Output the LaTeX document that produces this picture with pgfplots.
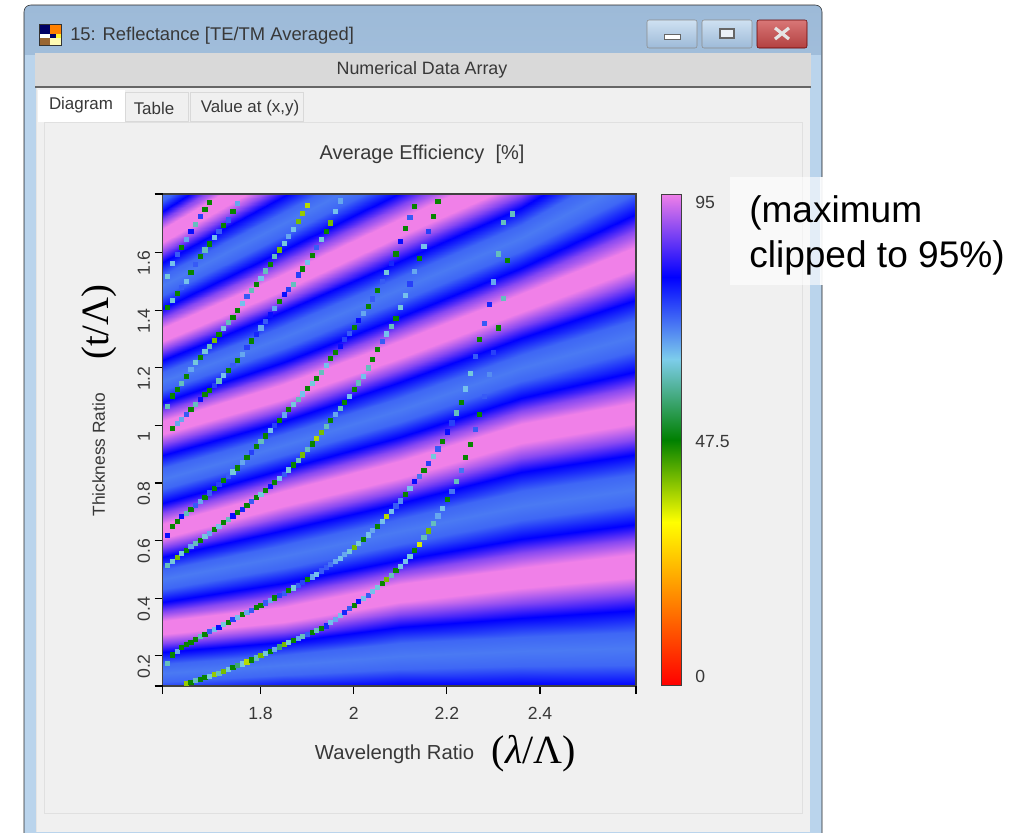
\documentclass[border=0pt]{standalone}
\usepackage{fontspec}
\setmainfont{Liberation Sans}
\newfontfamily\serifgreek{Liberation Serif}
\usepackage{pgfplots}
\pgfplotsset{compat=1.18}
\definecolor{txt}{HTML}{383838}
\definecolor{aeroA}{HTML}{9DBAD8}
\definecolor{aeroB}{HTML}{BAD4EC}
\definecolor{pane}{HTML}{F0F0F0}
\definecolor{bandg}{HTML}{D9D9D9}
\pgfplotsset{
  sim/.style={
    colormap={zemax}{rgb255(0pt)=(255,0,0); rgb255(31.5pt)=(255,255,0); rgb255(47.5pt)=(0,128,0); rgb255(63pt)=(125,205,235); rgb255(79pt)=(0,0,255); rgb255(95pt)=(240,128,232)},
    point meta min=0, point meta max=95},
  beads/.style={scatter, only marks, mark=square*, mark size=1.55pt, point meta=explicit,
    mark options={line width=0.1pt},
    scatter/use mapped color={draw=mapped color, fill=mapped color}}
}
\begin{document}
\begin{tikzpicture}[x=0.75pt,y=-0.75pt]
\useasboundingbox (0,0) rectangle (1031,832);
\fill[white] (0,0) rectangle (1031,832);
% window
\path[draw=black!85,top color=aeroA,bottom color=aeroB,middle color=aeroB,rounded corners=5] (24,5) -- (822,5) -- (822,840) -- (24,840) -- cycle;
\fill[aeroB] (25,55) rectangle (821,832);
\fill[bandg] (35,53) rectangle (811,87);
\fill[black!60] (35,86) rectangle (811,88);
\fill[pane] (36,88) rectangle (810,832);
\fill[white!90!black] (36,88) rectangle (37,832);
\fill[pane] (44,122) rectangle (802,813);
\draw[black!12] (44,122) rectangle (802,813);
\fill[white] (38,90) rectangle (125,122);
\draw[black!15,fill=pane] (125,92) rectangle (188,121);
\draw[black!15,fill=pane] (190,92) rectangle (303,121);
% icon
\fill[black!80] (39,24) rectangle (62,46);
\fill[white] (40,25) rectangle (61,45);
\fill[blue!40!black] (40,25) rectangle (50,34);
\fill[orange] (50,25) rectangle (61,34);
\fill[white] (40,34) rectangle (50,38);
\fill[blue!40!black] (50,34) rectangle (61,38);
\fill[yellow!80!white] (56,34) rectangle (61,38);
\fill[brown!80!black] (40,38) rectangle (50,45);
\fill[yellow!30] (50,38) rectangle (61,45);
% window buttons
\draw[black!45,rounded corners=1.5,top color=aeroB!70!white,bottom color=aeroA] (647,20) rectangle (697,48);
\draw[black!45,rounded corners=1.5,top color=aeroB!70!white,bottom color=aeroA] (702,20) rectangle (752,48);
\draw[black!60!red,rounded corners=1.5,top color=red!45!white!85!black,bottom color=red!60!black!75!white] (757,20) rectangle (807,48);
\fill[white,draw=black!60] (664,34) rectangle (680,39);
\draw[black!60,fill=white!80!aeroA,line width=0.8pt] (720,29) rectangle (734,38);
\draw[white!90!black,line width=2.4pt] (775,28) -- (789,39) (775,39) -- (789,28);
% chrome text
\node[anchor=west,inner sep=0pt,text=txt,font=\fontsize{13.8}{15}\selectfont] at (70,36) {15: Reflectance [TE/TM Averaged]};
\node[text=txt,font=\fontsize{13.4}{15}\selectfont] at (422,70) {Numerical Data Array};
\node[text=txt,font=\fontsize{12.7}{15}\selectfont] at (81,105) {Diagram};
\node[text=txt,font=\fontsize{12.7}{15}\selectfont] at (154,108) {Table};
\node[text=txt,font=\fontsize{12.7}{15}\selectfont] at (250,108) {Value at (x,y)};

\begin{axis}[sim, at={(122pt,-514.5pt)}, anchor=south west, scale only axis,
  width=355pt, height=369pt,
  xmin=1.59, xmax=2.606, ymin=0.095, ymax=1.804,
  xtick={1.8,2,2.2,2.4}, xticklabels={1.8,2,2.2,2.4},
  ytick={0.2,0.4,0.6,0.8,1,1.2,1.4,1.6}, yticklabels={0.2,0.4,0.6,0.8,1,1.2,1.4,1.6},
  extra x ticks={1.59,2.606}, extra x tick labels={},
  extra y ticks={0.095,1.804}, extra y tick labels={},
  tick align=outside, tick pos=left, major tick length=6pt,
  tick style={black, line width=0.9pt},
  axis line style={draw=black!75, line width=0.8pt},
  axis on top,
  ticklabel style={text=txt, font=\fontsize{13.2}{15}\selectfont},
  yticklabel style={rotate=90, anchor=south, xshift=-8pt},
  xticklabel style={yshift=-6.5pt},
  xlabel={Wavelength Ratio}, ylabel={Thickness Ratio},
  title={Average Efficiency\ \ [\%]},
  every axis title shift=0pt,
  xlabel style={at={(axis description cs:0.49,-0.138)}, anchor=center, text=txt, font=\fontsize{15.2}{17}\selectfont},
  ylabel style={at={(axis description cs:-0.135,0.47)}, anchor=center, text=txt, font=\fontsize{13}{15}\selectfont},
  title style={at={(axis description cs:0.548,1.081)}, anchor=center, text=txt, font=\fontsize{15}{17}\selectfont},
]
\addplot[surf, shader=interp, mesh/rows=49, mesh/cols=5, point meta=explicit] coordinates {
(1.59,.036)[88] (1.85,.053)[88] (2.10,.054)[88] (2.36,.047)[88] (2.61,.036)[88]
(1.59,.068)[79] (1.85,.088)[79] (2.10,.098)[79] (2.36,.098)[79] (2.61,.094)[79]
(1.59,.108)[71] (1.85,.133)[71] (2.10,.155)[71] (2.36,.164)[71] (2.61,.169)[71]
(1.59,.140)[69.5] (1.85,.168)[69.5] (2.10,.199)[69.5] (2.36,.215)[69.5] (2.61,.227)[69.5]
(1.59,.171)[71] (1.85,.203)[71] (2.10,.243)[71] (2.36,.266)[71] (2.61,.284)[71]
(1.59,.212)[79] (1.85,.248)[79] (2.10,.300)[79] (2.36,.332)[79] (2.61,.359)[79]
(1.59,.243)[88] (1.85,.283)[88] (2.10,.344)[88] (2.36,.383)[88] (2.61,.417)[88]
(1.59,.274)[95] (1.85,.318)[95] (2.10,.387)[95] (2.36,.434)[95] (2.61,.475)[95]
(1.59,.320)[95] (1.85,.370)[95] (2.10,.448)[95] (2.36,.505)[95] (2.61,.552)[95]
(1.59,.353)[88] (1.85,.411)[88] (2.10,.491)[88] (2.36,.556)[88] (2.61,.605)[88]
(1.59,.387)[79] (1.85,.452)[79] (2.10,.534)[79] (2.36,.606)[79] (2.61,.658)[79]
(1.59,.431)[71] (1.85,.504)[71] (2.10,.589)[71] (2.36,.672)[71] (2.61,.727)[71]
(1.59,.465)[69.5] (1.85,.545)[69.5] (2.10,.632)[69.5] (2.36,.722)[69.5] (2.61,.780)[69.5]
(1.59,.499)[71] (1.85,.586)[71] (2.10,.675)[71] (2.36,.772)[71] (2.61,.832)[71]
(1.59,.543)[79] (1.85,.638)[79] (2.10,.730)[79] (2.36,.838)[79] (2.61,.901)[79]
(1.59,.577)[88] (1.85,.679)[88] (2.10,.773)[88] (2.36,.888)[88] (2.61,.954)[88]
(1.59,.610)[95] (1.85,.720)[95] (2.10,.816)[95] (2.36,.939)[95] (2.61,1.007)[95]
(1.59,.659)[95] (1.85,.774)[95] (2.10,.875)[95] (2.36,1.006)[95] (2.61,1.082)[95]
(1.59,.695)[88] (1.85,.811)[88] (2.10,.917)[88] (2.36,1.051)[88] (2.61,1.136)[88]
(1.59,.731)[79] (1.85,.848)[79] (2.10,.959)[79] (2.36,1.096)[79] (2.61,1.190)[79]
(1.59,.778)[71] (1.85,.896)[71] (2.10,1.013)[71] (2.36,1.155)[71] (2.61,1.261)[71]
(1.59,.815)[69.5] (1.85,.933)[69.5] (2.10,1.055)[69.5] (2.36,1.200)[69.5] (2.61,1.315)[69.5]
(1.59,.851)[71] (1.85,.969)[71] (2.10,1.096)[71] (2.36,1.245)[71] (2.61,1.369)[71]
(1.59,.898)[79] (1.85,1.017)[79] (2.10,1.150)[79] (2.36,1.304)[79] (2.61,1.440)[79]
(1.59,.934)[88] (1.85,1.054)[88] (2.10,1.192)[88] (2.36,1.349)[88] (2.61,1.494)[88]
(1.59,.970)[95] (1.85,1.091)[95] (2.10,1.234)[95] (2.36,1.394)[95] (2.61,1.548)[95]
(1.59,1.017)[95] (1.85,1.144)[95] (2.10,1.293)[95] (2.36,1.458)[95] (2.61,1.625)[95]
(1.59,1.049)[88] (1.85,1.182)[88] (2.10,1.335)[88] (2.36,1.503)[88] (2.61,1.682)[88]
(1.59,1.081)[79] (1.85,1.220)[79] (2.10,1.377)[79] (2.36,1.548)[79] (2.61,1.738)[79]
(1.59,1.123)[71] (1.85,1.270)[71] (2.10,1.433)[71] (2.36,1.606)[71] (2.61,1.812)[71]
(1.59,1.155)[69.5] (1.85,1.308)[69.5] (2.10,1.475)[69.5] (2.36,1.651)[69.5] (2.61,1.868)[69.5]
(1.59,1.187)[71] (1.85,1.346)[71] (2.10,1.517)[71] (2.36,1.696)[71] (2.61,1.924)[71]
(1.59,1.229)[79] (1.85,1.396)[79] (2.10,1.573)[79] (2.36,1.755)[79] (2.61,1.998)[79]
(1.59,1.261)[88] (1.85,1.434)[88] (2.10,1.615)[88] (2.36,1.800)[88] (2.61,2.054)[88]
(1.59,1.293)[95] (1.85,1.472)[95] (2.10,1.657)[95] (2.36,1.845)[95] (2.61,2.111)[95]
(1.59,1.339)[95] (1.85,1.527)[95] (2.10,1.718)[95] (2.36,1.913)[95] (2.61,2.188)[95]
(1.59,1.374)[88] (1.85,1.568)[88] (2.10,1.763)[88] (2.36,1.965)[88] (2.61,2.242)[88]
(1.59,1.409)[79] (1.85,1.609)[79] (2.10,1.807)[79] (2.36,2.017)[79] (2.61,2.296)[79]
(1.59,1.454)[71] (1.85,1.662)[71] (2.10,1.865)[71] (2.36,2.086)[71] (2.61,2.366)[71]
(1.59,1.489)[69.5] (1.85,1.703)[69.5] (2.10,1.910)[69.5] (2.36,2.138)[69.5] (2.61,2.420)[69.5]
(1.59,1.524)[71] (1.85,1.743)[71] (2.10,1.954)[71] (2.36,2.190)[71] (2.61,2.474)[71]
(1.59,1.569)[79] (1.85,1.796)[79] (2.10,2.012)[79] (2.36,2.259)[79] (2.61,2.544)[79]
(1.59,1.604)[88] (1.85,1.837)[88] (2.10,2.056)[88] (2.36,2.311)[88] (2.61,2.598)[88]
(1.59,1.639)[95] (1.85,1.878)[95] (2.10,2.101)[95] (2.36,2.363)[95] (2.61,2.652)[95]
(1.59,1.684)[95] (1.85,1.934)[95] (2.10,2.162)[95] (2.36,2.435)[95] (2.61,2.726)[95]
(1.59,1.714)[88] (1.85,1.973)[88] (2.10,2.205)[88] (2.36,2.485)[88] (2.61,2.777)[88]
(1.59,1.744)[79] (1.85,2.012)[79] (2.10,2.248)[79] (2.36,2.535)[79] (2.61,2.828)[79]
(1.59,1.783)[71] (1.85,2.064)[71] (2.10,2.303)[71] (2.36,2.600)[71] (2.61,2.894)[71]
(1.59,1.813)[69.5] (1.85,2.103)[69.5] (2.10,2.346)[69.5] (2.36,2.650)[69.5] (2.61,2.945)[69.5]
};
% resonance 1
\addplot[beads] coordinates {
(1.64,.105)[38](1.65,.110)[47](1.66,.115)[60](1.67,.120)[47](1.68,.125)[47](1.69,.130)[62](1.70,.135)[38](1.71,.141)[60](1.72,.148)[40](1.73,.155)[62](1.74,.161)[47](1.75,.167)[55](1.76,.173)[62](1.77,.180)[36](1.78,.187)[47](1.79,.194)[60](1.80,.202)[40](1.81,.209)[62](1.82,.216)[47](1.83,.224)[66](1.84,.232)[55](1.85,.240)[40](1.86,.247)[62](1.87,.254)[47](1.88,.262)[66](1.89,.269)[60](1.90,.276)[72](1.91,.283)[47](1.92,.290)[60](1.93,.297)[47](1.94,.305)[76](1.95,.316)[64](1.96,.328)[66](1.97,.340)[64](1.98,.353)[76](1.99,.365)[72](2.00,.377)[47](2.01,.389)[78](2.02,.400)[64](2.03,.412)[72](2.04,.426)[64](2.05,.440)[62](2.06,.453)[47](2.07,.467)[40](2.08,.481)[60](2.09,.497)[47](2.10,.513)[64](2.11,.528)[64](2.12,.545)[62](2.13,.567)[47](2.14,.589)[34](2.15,.611)[60](2.16,.635)[40](2.17,.660)[60](2.18,.687)[66](2.19,.714)[64](2.20,.743)[47](2.21,.771)[70](2.22,.806)[60](2.23,.846)[70](2.24,.889)[47](2.25,.934)[47](2.26,.987)[72](2.27,1.041)[47](2.28,1.103)[72](2.29,1.178)[68](2.30,1.256)[74](2.31,1.340)[47](2.32,1.443)[60](2.33,1.576)[47](2.34,1.736)[60]
};
% resonance 2
\addplot[beads] coordinates {
(1.60,.175)[60](1.61,.204)[47](1.62,.217)[66](1.63,.229)[47](1.64,.242)[47](1.65,.248)[47](1.66,.258)[47](1.67,.267)[60](1.68,.276)[47](1.69,.285)[72](1.70,.294)[64](1.71,.301)[78](1.72,.310)[62](1.73,.318)[47](1.74,.327)[74](1.75,.335)[64](1.76,.344)[47](1.77,.352)[66](1.78,.360)[72](1.79,.369)[47](1.80,.377)[47](1.81,.385)[72](1.82,.393)[66](1.83,.402)[47](1.84,.410)[74](1.85,.419)[72](1.86,.428)[47](1.87,.437)[62](1.88,.447)[72](1.89,.456)[74](1.90,.466)[47](1.91,.475)[66](1.92,.485)[64](1.93,.496)[72](1.94,.507)[72](1.95,.518)[70](1.96,.529)[66](1.97,.540)[64](1.98,.552)[66](1.99,.563)[62](2.00,.577)[40](2.01,.592)[62](2.02,.606)[47](2.03,.621)[64](2.04,.636)[66](2.05,.651)[47](2.06,.668)[64](2.07,.686)[36](2.08,.704)[64](2.09,.722)[72](2.10,.739)[68](2.11,.761)[47](2.12,.783)[64](2.13,.806)[78](2.14,.825)[70](2.15,.844)[47](2.16,.868)[74](2.17,.893)[62](2.18,.920)[72](2.19,.947)[47](2.20,.979)[78](2.21,1.010)[74](2.22,1.045)[60](2.23,1.081)[47](2.24,1.128)[64](2.25,1.182)[62](2.26,1.240)[72](2.27,1.299)[47](2.28,1.356)[72](2.29,1.423)[76](2.30,1.500)[66](2.31,1.597)[60](2.32,1.706)[60]
};
% resonance 3
\addplot[beads] coordinates {
(1.60,.514)[60](1.61,.528)[62](1.62,.542)[40](1.63,.556)[62](1.64,.568)[47](1.65,.580)[66](1.66,.591)[60](1.67,.603)[47](1.68,.615)[62](1.69,.627)[66](1.70,.639)[47](1.71,.651)[64](1.72,.663)[47](1.73,.675)[60](1.74,.687)[78](1.75,.699)[47](1.76,.711)[76](1.77,.723)[47](1.78,.737)[72](1.79,.750)[47](1.80,.763)[62](1.81,.776)[47](1.82,.790)[78](1.83,.803)[47](1.84,.816)[64](1.85,.830)[72](1.86,.847)[62](1.87,.864)[47](1.88,.881)[60](1.89,.899)[40](1.90,.918)[60](1.91,.937)[47](1.92,.957)[36](1.93,.977)[40](1.94,.998)[60](1.95,1.019)[47](1.96,1.040)[66](1.97,1.061)[60](1.98,1.082)[47](1.99,1.103)[64](2.00,1.126)[47](2.01,1.149)[60](2.02,1.171)[64](2.03,1.201)[60](2.04,1.232)[47](2.05,1.264)[47](2.06,1.292)[72](2.07,1.319)[64](2.08,1.346)[60](2.09,1.373)[47](2.10,1.411)[62](2.11,1.452)[64](2.12,1.493)[74](2.13,1.537)[66](2.14,1.580)[47](2.15,1.624)[64](2.16,1.675)[74](2.17,1.727)[47](2.18,1.779)[47]
};
% resonance 4
\addplot[beads] coordinates {
(1.60,.619)[78](1.61,.651)[47](1.62,.668)[47](1.63,.685)[78](1.64,.697)[60](1.65,.710)[47](1.66,.723)[72](1.67,.738)[66](1.68,.752)[47](1.69,.767)[72](1.70,.782)[47](1.71,.797)[74](1.72,.811)[47](1.73,.826)[72](1.74,.840)[62](1.75,.854)[47](1.76,.872)[66](1.77,.890)[47](1.78,.909)[74](1.79,.928)[47](1.80,.946)[60](1.81,.965)[47](1.82,.983)[64](1.83,1.002)[74](1.84,1.020)[47](1.85,1.038)[66](1.86,1.056)[47](1.87,1.074)[62](1.88,1.093)[60](1.89,1.111)[64](1.90,1.129)[47](1.91,1.148)[62](1.92,1.166)[47](1.93,1.185)[60](1.94,1.209)[64](1.95,1.233)[47](1.96,1.255)[47](1.97,1.277)[78](1.98,1.299)[74](1.99,1.322)[72](2.00,1.343)[47](2.01,1.365)[78](2.02,1.390)[66](2.03,1.416)[47](2.04,1.441)[72](2.05,1.471)[47](2.06,1.502)[72](2.07,1.532)[62](2.08,1.564)[76](2.09,1.597)[47](2.10,1.641)[78](2.11,1.687)[47](2.12,1.725)[72](2.13,1.763)[47]
};
% resonance 5
\addplot[beads] coordinates {
(1.61,.991)[47](1.62,1.007)[66](1.63,1.023)[66](1.64,1.039)[72](1.65,1.056)[47](1.66,1.074)[60](1.67,1.091)[78](1.68,1.108)[47](1.69,1.124)[47](1.70,1.140)[74](1.71,1.156)[60](1.72,1.174)[64](1.73,1.192)[47](1.74,1.210)[72](1.75,1.226)[47](1.76,1.249)[66](1.77,1.272)[74](1.78,1.295)[47](1.79,1.318)[76](1.80,1.340)[66](1.81,1.362)[72](1.82,1.385)[78](1.83,1.409)[66](1.84,1.432)[47](1.85,1.456)[78](1.86,1.473)[74](1.87,1.492)[60](1.88,1.524)[74](1.89,1.545)[47](1.90,1.567)[64](1.91,1.593)[47](1.92,1.620)[72](1.93,1.648)[62](1.94,1.676)[47](1.95,1.705)[40](1.96,1.745)[64](1.97,1.781)[66]
};
% resonance 6
\addplot[beads] coordinates {
(1.60,1.067)[60](1.61,1.104)[47](1.62,1.125)[47](1.63,1.146)[60](1.64,1.171)[47](1.65,1.196)[66](1.66,1.219)[62](1.67,1.238)[47](1.68,1.258)[62](1.69,1.277)[60](1.70,1.297)[40](1.71,1.317)[47](1.72,1.338)[62](1.73,1.358)[60](1.74,1.378)[47](1.75,1.402)[47](1.76,1.425)[64](1.77,1.448)[72](1.78,1.470)[60](1.79,1.491)[47](1.80,1.513)[64](1.81,1.538)[60](1.82,1.562)[47](1.83,1.587)[60](1.84,1.611)[40](1.85,1.635)[62](1.86,1.659)[66](1.87,1.683)[64](1.88,1.711)[40](1.89,1.739)[38](1.90,1.767)[36]
};
% resonance 7
\addplot[beads] coordinates {
(1.60,1.410)[47](1.61,1.436)[62](1.62,1.461)[47](1.63,1.481)[72](1.64,1.502)[64](1.65,1.533)[47](1.66,1.562)[72](1.67,1.587)[47](1.68,1.611)[60](1.69,1.632)[47](1.70,1.653)[64](1.71,1.674)[72](1.72,1.695)[47](1.73,1.715)[72](1.74,1.744)[47](1.75,1.773)[66]
};
% resonance 8
\addplot[beads] coordinates {
(1.60,1.520)[62](1.61,1.564)[64](1.62,1.594)[72](1.63,1.621)[47](1.64,1.648)[66](1.65,1.675)[78](1.66,1.701)[60](1.67,1.726)[74](1.68,1.751)[47](1.69,1.775)[47]
};
\end{axis}

% colour bar
\begin{axis}[sim, at={(496pt,-513.75pt)}, anchor=south west, scale only axis,
  width=15pt, height=368.25pt,
  xmin=0, xmax=1, ymin=0, ymax=95, xtick=\empty,
  ytick={1.7,47.2,93.3}, yticklabels={0,47.5,95},
  ytick pos=right, yticklabel pos=right, major tick length=0pt,
  axis line style={draw=black!75, line width=0.7pt}, axis on top,
  ticklabel style={text=txt, font=\fontsize{13.2}{15}\selectfont},
  yticklabel style={xshift=7pt, anchor=west},
]
\addplot[surf, shader=interp, mesh/rows=6, mesh/cols=2, point meta=explicit] coordinates {
(0,0)[0] (1,0)[0]
(0,31.5)[31.5] (1,31.5)[31.5]
(0,47.5)[47.5] (1,47.5)[47.5]
(0,63)[63] (1,63)[63]
(0,79)[79] (1,79)[79]
(0,95)[95] (1,95)[95]
};
\end{axis}

% annotations laid over the screenshot
\fill[white,opacity=0.6] (730,177) rectangle (823,285);
\fill[white,opacity=0.8] (820,177) rectangle (823,285);
\fill[white] (823,0) rectangle (1031,832);
\node[anchor=west,inner sep=0pt,font=\fontsize{27.8}{33.7}\selectfont,align=left] at (749,235) {(maximum\\clipped to 95\%)};
\node[font=\serifgreek\fontsize{30}{32}\selectfont] at (534,754) {(\textit{λ}/Λ)};
\node[font=\serifgreek\fontsize{29}{32}\selectfont,rotate=90] at (99,322) {(t/Λ)};
\end{tikzpicture}
\end{document}
